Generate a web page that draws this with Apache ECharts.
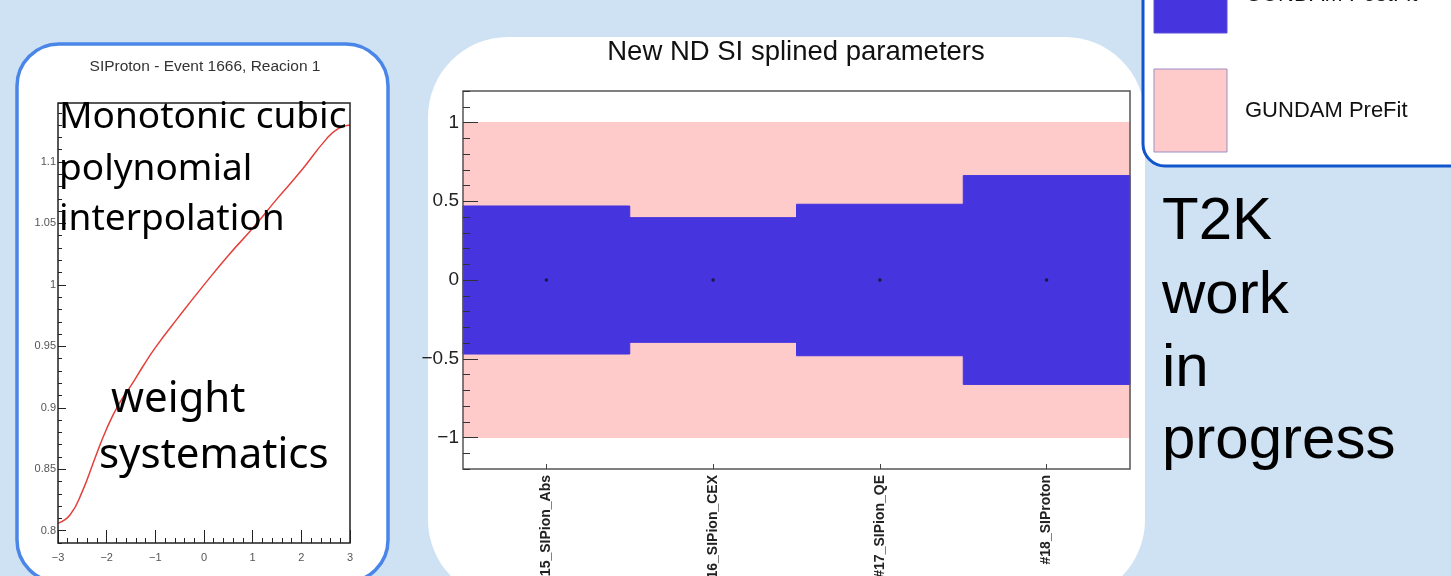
<!DOCTYPE html>
<html>
<head>
<meta charset="utf-8">
<script src="https://cdn.jsdelivr.net/npm/echarts@6/dist/echarts.min.js"></script>
<style>
  html, body { margin: 0; padding: 0; background: #cfe2f3; }
  #main { width: 1451px; height: 576px; }
</style>
</head>
<body>
<div id="main"></div>
<script>
  // spline of the weight vs parameter (left panel)
  const splineX = [-3, -2.75, -2.5, -2.25, -2, -1.75, -1.5, -1.25, -1, -0.5, 0, 0.5, 1, 1.5, 2, 2.5, 2.75, 3]
  const splineY = [0.806, 0.813, 0.832, 0.858, 0.883, 0.903, 0.918, 0.934, 0.949, 0.975, 1.0, 1.024, 1.046, 1.070, 1.093, 1.118, 1.127, 1.130]

  // SI splined parameters (middle panel)
  const categories = ['#15_SIPion_Abs', '#16_SIPion_CEX', '#17_SIPion_QE', '#18_SIProton']
  const centralValue = [0, 0, 0, 0]
  const preFitErr = [1, 1, 1, 1]
  const postFitErr = [0.470, 0.396, 0.481, 0.663]

  const blue = '#4634de'
  const pink = '#fecaca'
  const minus = v => String(v).replace('-', '\u2212')

  const band = (err) => categories.map((c, i) => [i, centralValue[i] - err[i], centralValue[i] + err[i]])

  function renderBand (params, api) {
    const i = api.value(0)
    const top = api.coord([i, api.value(2)])
    const bottom = api.coord([i, api.value(1)])
    const w = api.size([1, 0])[0]
    const color = api.visual('color')
    return {
      type: 'rect',
      shape: { x: top[0] - w / 2, y: top[1], width: w, height: bottom[1] - top[1] },
      style: { fill: color, stroke: color, lineWidth: 1 }
    }
  }

  const text = (x, y, str, size, family, extra) => Object.assign({
    type: 'text', x: x, y: y, z: 100,
    style: Object.assign({
      text: str, fontSize: size, fontFamily: family, fill: '#000',
      align: 'left', verticalAlign: 'middle'
    }, extra || {})
  })

  const noLine = { show: false, onZero: false }

  const chart = echarts.init(document.getElementById('main'))
  chart.setOption({
    backgroundColor: '#cfe2f3',
    animation: false,
    grid: [
      { left: 58, top: 103, width: 292, height: 440, show: true, z: 5, outerBoundsMode: 'none',
        backgroundColor: 'transparent', borderColor: '#222', borderWidth: 1.5 },
      { left: 463, top: 91, width: 667, height: 378, show: true, z: 5, outerBoundsMode: 'none',
        backgroundColor: 'transparent', borderColor: '#555', borderWidth: 1.5 }
    ],
    xAxis: [
      {
        type: 'value', gridIndex: 0, min: -3, max: 3, interval: 1, z: 5,
        axisLine: noLine,
        axisTick: { inside: true, length: 13, lineStyle: { color: '#222' } },
        minorTick: { show: true, splitNumber: 5, length: 5, lineStyle: { color: '#222' } },
        splitLine: { show: false },
        axisLabel: { margin: 9, fontSize: 11, color: '#555', fontFamily: 'Liberation Sans', formatter: minus }
      },
      {
        type: 'category', gridIndex: 1, data: categories, z: 5,
        axisLine: noLine,
        axisTick: { show: true, inside: true, alignWithLabel: true, length: 5, lineStyle: { color: '#444' } },
        axisLabel: { interval: 0, rotate: 90, margin: 6, fontSize: 14, fontWeight: 'bold',
          color: '#222', fontFamily: 'Liberation Sans' }
      }
    ],
    yAxis: [
      {
        type: 'value', gridIndex: 0, min: 0.79, max: 1.148, splitNumber: 7, position: 'left', z: 5,
        axisLine: noLine,
        axisTick: { inside: true, length: 8, lineStyle: { color: '#222' } },
        splitLine: { show: false },
        axisLabel: { showMinLabel: false, showMaxLabel: false, margin: 2, fontSize: 11,
          color: '#555', fontFamily: 'Liberation Sans' }
      },
      {
        type: 'value', gridIndex: 0, min: 0.79, max: 1.148, interval: 0.01, position: 'left', z: 5,
        axisLine: noLine,
        axisTick: { inside: true, length: 4, lineStyle: { color: '#222' } },
        splitLine: { show: false },
        axisLabel: { show: false }
      },
      {
        type: 'value', gridIndex: 1, min: -1.2, max: 1.2, splitNumber: 5, position: 'left', z: 5,
        axisLine: noLine,
        axisTick: { show: true, inside: true, length: 15, lineStyle: { color: '#333' } },
        splitLine: { show: false },
        axisLabel: { showMinLabel: false, showMaxLabel: false, margin: 4, fontSize: 19,
          color: '#222', fontFamily: 'Liberation Sans', formatter: minus }
      },
      {
        type: 'value', gridIndex: 1, min: -1.2, max: 1.2, interval: 0.1, position: 'left', z: 5,
        axisLine: noLine,
        axisTick: { show: true, inside: true, length: 7, lineStyle: { color: '#333' } },
        splitLine: { show: false },
        axisLabel: { show: false }
      }
    ],
    series: [
      {
        name: 'spline', type: 'line', xAxisIndex: 0, yAxisIndex: 0, z: 1,
        data: splineX.map((x, i) => [x, splineY[i]]),
        smooth: true, showSymbol: false,
        lineStyle: { color: '#e4413b', width: 1.5 }
      },
      {
        name: 'GUNDAM PreFit', type: 'custom', xAxisIndex: 1, yAxisIndex: 2, z: 1,
        renderItem: renderBand, data: band(preFitErr), itemStyle: { color: pink }
      },
      {
        name: 'GUNDAM PostFit', type: 'custom', xAxisIndex: 1, yAxisIndex: 2, z: 1,
        renderItem: renderBand, data: band(postFitErr), itemStyle: { color: blue }
      },
      {
        name: 'central', type: 'scatter', xAxisIndex: 1, yAxisIndex: 2,
        data: categories.map((c, i) => [i, centralValue[i]]),
        symbolSize: 3.5, itemStyle: { color: '#111' }, z: 6
      }
    ],
    graphic: [
      // panels
      { type: 'rect', z: -10, shape: { x: 17, y: 44, width: 371, height: 538, r: 42 },
        style: { fill: '#fff', stroke: '#4a86e8', lineWidth: 3.5 } },
      { type: 'rect', z: -10, shape: { x: 428, y: 37, width: 717, height: 563, r: 80 },
        style: { fill: '#fff' } },
      { type: 'rect', z: -10, shape: { x: 1143, y: -40, width: 330, height: 206, r: 22 },
        style: { fill: '#fff', stroke: '#1155cc', lineWidth: 3 } },
      // legend
      { type: 'rect', z: 10, shape: { x: 1154, y: -50, width: 73, height: 83 },
        style: { fill: blue, stroke: '#5a50d8', lineWidth: 1 } },
      { type: 'rect', z: 10, shape: { x: 1154, y: 69, width: 73, height: 83 },
        style: { fill: pink, stroke: '#9d8fc7', lineWidth: 1 } },
      text(1245, -5, 'GUNDAM PostFit', 22, 'Liberation Sans', { fill: '#111' }),
      text(1245, 111, 'GUNDAM PreFit', 22, 'Liberation Sans', { fill: '#111' }),
      // titles
      text(205, 66.5, 'SIProton - Event 1666, Reacion 1', 15.5, 'Liberation Sans', { fill: '#333', align: 'center' }),
      text(796, 52, 'New ND SI splined parameters', 27.5, 'Liberation Sans', { fill: '#111', align: 'center' }),
      // annotations
      text(59, 117, 'Monotonic cubic', 37, 'Noto Sans'),
      text(59, 169, 'polynomial', 37, 'Noto Sans'),
      text(59, 219, 'interpolation', 37, 'Noto Sans'),
      text(111, 400, 'weight', 42, 'Noto Sans'),
      text(99, 456, 'systematics', 42, 'Noto Sans'),
      text(1162, 222, 'T2K', 60, 'Liberation Sans'),
      text(1162, 296, 'work', 60, 'Liberation Sans'),
      text(1162, 369, 'in', 60, 'Liberation Sans'),
      text(1162, 441, 'progress', 60, 'Liberation Sans')
    ]
  })
</script>
</body>
</html>
